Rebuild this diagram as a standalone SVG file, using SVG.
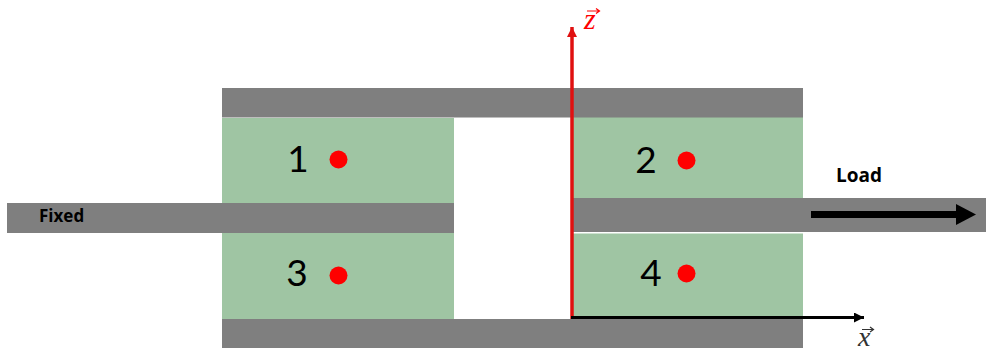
<svg xmlns="http://www.w3.org/2000/svg" width="986" height="352" viewBox="0 0 986 352">
<style>
.bar{fill:#7f7f7f}
.soft{fill:#9fc5a3}
.dot{fill:#fe0000}
.num{font-family:"Lato","Open Sans",sans-serif;font-size:37px;fill:#000;text-anchor:middle}
.lbl{font-family:"Open Sans","Lato",sans-serif;font-weight:700;fill:#000}
.math{font-family:"Liberation Serif",serif;font-style:italic;font-size:30px}
.vec{fill:none;stroke-width:1.200}
</style>
<defs>
<marker id="red" markerUnits="userSpaceOnUse" markerWidth="12" markerHeight="10" refX="10" refY="5" orient="auto"><path d="M0 0L10 5L0 10Z" fill="#e01010"/></marker>
<marker id="blk" markerUnits="userSpaceOnUse" markerWidth="12" markerHeight="10" refX="10" refY="5" orient="auto"><path d="M0 0L10 5L0 10Z" fill="#000"/></marker>
<marker id="load" markerUnits="userSpaceOnUse" markerWidth="22" markerHeight="22" refX="0" refY="10.5" orient="auto"><path d="M0 0L20 10.5L0 21Z" fill="#000"/></marker>
</defs>
<g id="soft-left"><rect class="soft" x="222" y="118" width="232" height="201"/></g>
<g id="soft-right"><rect class="soft" x="572" y="117" width="231" height="202"/></g>
<g id="plate-top"><rect class="bar" x="222" y="88" width="581" height="29.500"/></g>
<g id="plate-bottom"><rect class="bar" x="222" y="319" width="581" height="29"/></g>
<g id="bar-fixed"><rect class="bar" x="7" y="203" width="447" height="30"/><text class="lbl" font-size="17" x="39" y="222">Fixed</text></g>
<g id="bar-load"><rect x="572" y="232" width="231" height="1.500" fill="#fff"/><rect class="bar" x="572" y="198" width="414" height="34"/></g>
<g id="label-load"><text class="lbl" font-size="19" x="836" y="182">Load</text></g>
<g id="node-1"><text class="num" x="298" y="172">1</text><circle class="dot" cx="338.500" cy="159.500" r="9"/></g>
<g id="node-2"><text class="num" x="646" y="173">2</text><circle class="dot" cx="686.500" cy="160.500" r="9"/></g>
<g id="node-3"><text class="num" x="297" y="286">3</text><circle class="dot" cx="338.500" cy="275.500" r="9"/></g>
<g id="node-4"><text class="num" x="651" y="286">4</text><circle class="dot" cx="686.500" cy="273.500" r="9"/></g>
<g id="connectors">
<path d="M572 319V27" stroke="#e01010" stroke-width="3.500" fill="none" marker-end="url(#red)"/>
<path d="M571 317.500H864" stroke="#000" stroke-width="3" fill="none" marker-end="url(#blk)"/>
<path d="M811 214.500H956" stroke="#000" stroke-width="7" fill="none" marker-end="url(#load)"/>
</g>
<g id="axis-labels">
<text class="math" x="584" y="29" fill="#fe0000">z</text>
<path class="vec" d="M587 11H599M596 8.500L599.500 11L596 13.500" stroke="#fe0000"/>
<text class="math" style="font-size:28px" x="858" y="345.500" fill="#333">x</text>
<path class="vec" d="M862 329.500H873M870 327L873.500 329.500L870 332" stroke="#333"/>
</g>
</svg>
